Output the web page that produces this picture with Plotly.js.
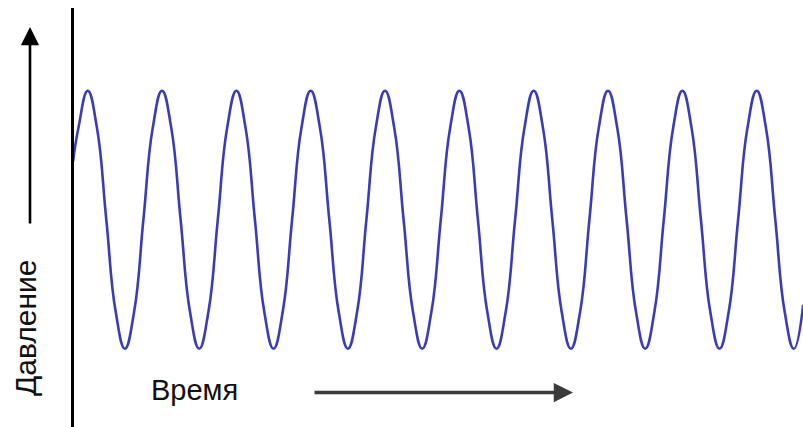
<!DOCTYPE html>
<html>
<head>
<meta charset="utf-8">
<script src="https://cdn.plot.ly/plotly-3.0.1.min.js"></script>
<style>html,body{margin:0;padding:0;background:#fff;}#chart{width:803px;height:427px;}</style>
</head>
<body>
<div id="chart"></div>
<script>
// Time (arbitrary units) and pressure (relative)
var time = [0, 5.4, 14.7, 24.0, 33.3, 42.6, 51.9, 61.2, 70.4, 79.7,
  89.0, 98.3, 107.6, 116.9, 126.2, 135.5, 144.8, 154.1,
  163.4, 172.6, 181.9, 191.2, 200.5, 209.8, 219.1, 228.4,
  237.7, 247.0, 256.3, 265.6, 274.9, 284.2, 293.4, 302.7,
  312.0, 321.3, 330.6, 339.9, 349.2, 358.5, 367.8, 377.1,
  386.4, 395.7, 404.9, 414.2, 423.5, 432.8, 442.1, 451.4,
  460.7, 470.0, 479.3, 488.6, 497.9, 507.2, 516.4, 525.7,
  535.0, 544.3, 553.6, 562.9, 572.2, 581.5, 590.8, 600.1,
  609.4, 618.6, 627.9, 637.2, 646.5, 655.8, 665.1, 674.4,
  683.7, 693.0, 702.3, 711.6, 720.9, 730.2];
var pressure = [0.45, 0.71, 1, 0.71, 0, -0.71, -1, -0.71, 0, 0.71,
  1, 0.71, 0, -0.71, -1, -0.71, 0, 0.71,
  1, 0.71, 0, -0.71, -1, -0.71, 0, 0.71,
  1, 0.71, 0, -0.71, -1, -0.71, 0, 0.71,
  1, 0.71, 0, -0.71, -1, -0.71, 0, 0.71,
  1, 0.71, 0, -0.71, -1, -0.71, 0, 0.71,
  1, 0.71, 0, -0.71, -1, -0.71, 0, 0.71,
  1, 0.71, 0, -0.71, -1, -0.71, 0, 0.71,
  1, 0.71, 0, -0.71, -1, -0.71, 0, 0.71,
  1, 0.71, 0, -0.71, -1, -0.66];
var xLabel = "Время";
var yLabel = "Давление";

var trace = {
  x: time, y: pressure, type: 'scatter', mode: 'lines',
  line: {color: '#3b3bb8', width: 2.6, shape: 'spline', smoothing: 1.3},
  hoverinfo: 'skip', cliponaxis: true
};

var layout = {
  width: 803, height: 427,
  margin: {l: 74, r: 0, t: 8, b: 0},
  paper_bgcolor: '#ffffff', plot_bgcolor: '#ffffff',
  showlegend: false,
  xaxis: {range: [1, 730], showgrid: false, zeroline: false, showticklabels: false, ticks: '', showline: false},
  yaxis: {range: [-1.607, 1.641], showgrid: false, zeroline: false, showticklabels: false, ticks: '',
          showline: true, linecolor: '#000000', linewidth: 3},
  annotations: [
    {xref: 'paper', yref: 'paper', x: (194 - 74) / 729, y: (427 - 390) / 419,
     text: xLabel, showarrow: false, font: {family: 'Liberation Sans, Arial, sans-serif', size: 29, color: '#111111'},
     xanchor: 'center', yanchor: 'middle'},
    {xref: 'paper', yref: 'paper', x: (25 - 74) / 729, y: (427 - 328) / 419,
     text: yLabel, showarrow: false, textangle: -90, font: {family: 'Liberation Sans, Arial, sans-serif', size: 30, color: '#111111'},
     xanchor: 'center', yanchor: 'middle'},
    // horizontal arrow (time)
    {xref: 'paper', yref: 'paper', x: (573 - 74) / 729, y: (427 - 392.5) / 419,
     ax: 313 - 573, ay: 0, axref: 'pixel', ayref: 'pixel', text: '', showarrow: true,
     arrowhead: 2, arrowsize: 1.1, arrowwidth: 3.5, arrowcolor: '#3a3a3a', standoff: 0, startstandoff: 0},
    // vertical arrow (pressure)
    {xref: 'paper', yref: 'paper', x: (30 - 74) / 729, y: (427 - 27) / 419,
     ax: 0, ay: 225 - 27, axref: 'pixel', ayref: 'pixel', text: '', showarrow: true,
     arrowhead: 2, arrowsize: 1.4, arrowwidth: 2.6, arrowcolor: '#000000', standoff: 0, startstandoff: 0}
  ]
};

Plotly.newPlot('chart', [trace], layout, {staticPlot: true, displayModeBar: false});
</script>
</body>
</html>
